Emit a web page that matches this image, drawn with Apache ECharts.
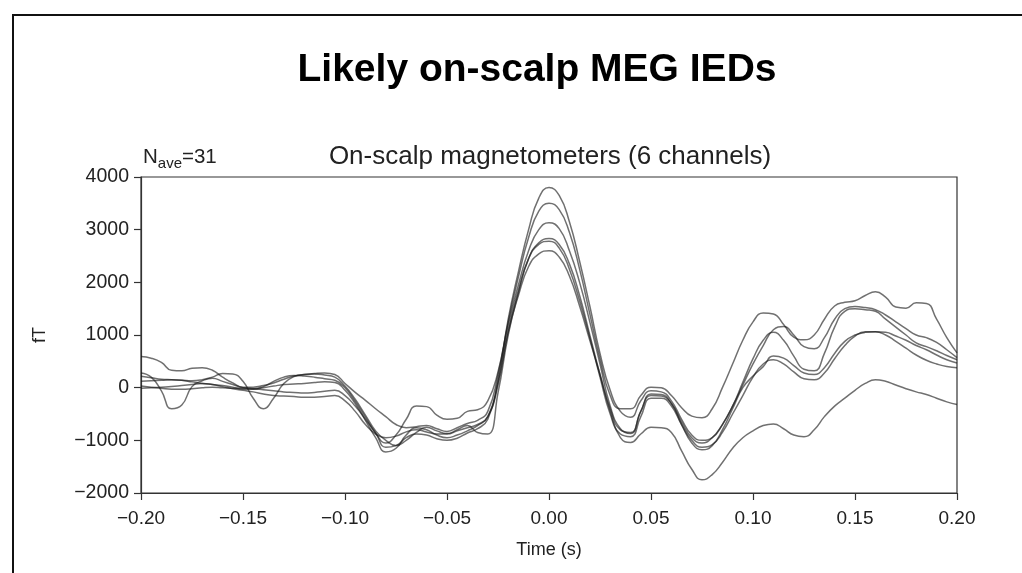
<!DOCTYPE html>
<html>
<head>
<meta charset="utf-8">
<script src="https://cdn.jsdelivr.net/npm/echarts@6/dist/echarts.min.js"></script>
<style>
html,body{margin:0;padding:0;background:#fff;}
#chart{width:1022px;height:573px;}
</style>
</head>
<body>
<div id="chart"></div>
<script>
// Time samples (s)
var times = [-0.200,-0.195,-0.190,-0.185,-0.180,-0.175,-0.170,-0.165,-0.160,-0.155,
-0.150,-0.145,-0.140,-0.135,-0.130,-0.125,-0.120,-0.115,-0.110,-0.105,
-0.100,-0.095,-0.090,-0.085,-0.080,-0.075,-0.070,-0.065,-0.060,-0.055,
-0.050,-0.045,-0.040,-0.035,-0.030,-0.025,-0.020,-0.015,-0.010,-0.005,
0.000,0.005,0.010,0.015,0.020,0.025,0.030,0.035,0.040,0.045,
0.050,0.055,0.060,0.065,0.070,0.075,0.080,0.085,0.090,0.095,
0.100,0.105,0.110,0.115,0.120,0.125,0.130,0.135,0.140,0.145,
0.150,0.155,0.160,0.165,0.170,0.175,0.180,0.185,0.190,0.195,0.200];

// Six channels (fT)
var ch1 = [120,130,140,150,140,110,80,60,40,10,
-30,-30,0,30,60,70,80,100,110,100,
-50,-300,-620,-950,-1220,-1150,-900,-760,-800,-900,
-950,-900,-820,-720,-550,150,1300,2200,3000,3600,
3800,3650,3150,2400,1550,650,-50,-450,-560,-250,
-60,-80,-250,-600,-900,-1000,-950,-700,-350,50,
450,800,1100,1160,1000,780,740,950,1300,1500,
1540,1520,1480,1380,1250,1120,1000,950,860,720,570];

var ch2 = [590,560,480,330,320,370,380,330,200,90,
10,10,40,90,160,220,250,270,280,250,
80,-90,-240,-400,-550,-700,-760,-740,-720,-780,
-830,-760,-680,-620,-450,250,1250,2100,2850,3350,
3500,3380,2950,2250,1400,550,-150,-400,-400,-150,
10,0,-150,-380,-540,-570,-400,0,450,900,
1250,1420,1400,1200,960,910,1000,1300,1550,1620,
1650,1750,1820,1720,1530,1510,1610,1600,1300,950,660];

var ch3 = [280,200,-60,-400,-330,20,130,180,120,60,
0,-20,20,120,200,230,220,200,170,140,
0,-260,-560,-860,-1050,-900,-600,-350,-360,-520,
-600,-580,-450,-420,-250,300,1200,1950,2600,3000,
3130,3020,2600,2000,1250,450,-350,-780,-870,-450,
-150,-160,-300,-650,-950,-1050,-950,-700,-350,100,
550,900,1050,900,600,350,320,650,1150,1450,
1500,1480,1450,1300,1150,1000,850,780,700,610,530];

var ch4 = [215,190,160,150,140,130,150,200,270,260,
120,-200,-400,-200,80,210,250,260,240,200,
30,-220,-520,-820,-1000,-1100,-1000,-850,-750,-820,
-870,-800,-720,-850,-880,-100,1000,1800,2450,2750,
2830,2720,2350,1750,1000,250,-450,-950,-1040,-880,
-750,-760,-850,-1200,-1550,-1750,-1650,-1420,-1150,-950,
-820,-720,-690,-780,-900,-930,-800,-550,-350,-200,
-50,80,150,120,50,-20,-80,-130,-200,-270,-320];

var ch5 = [30,10,-10,-30,-30,-20,0,10,0,-10,
-10,-20,-40,-60,-80,-90,-100,-90,-70,-50,
-150,-350,-600,-860,-1130,-1100,-950,-880,-900,-970,
-1000,-960,-860,-780,-600,100,1100,1850,2450,2720,
2780,2650,2250,1650,950,200,-500,-880,-930,-550,
-200,-200,-350,-700,-1000,-1130,-1080,-850,-500,-150,
200,450,530,450,300,170,150,280,550,800,
980,1060,1060,1000,880,750,620,520,450,400,380];

var ch6 = [-10,0,10,20,40,60,80,60,20,-20,
-50,-80,-120,-150,-160,-170,-180,-180,-170,-150,
-250,-450,-700,-880,-950,-920,-840,-800,-840,-880,
-880,-820,-760,-700,-550,50,1050,1750,2300,2540,
2600,2480,2120,1550,900,250,-400,-800,-850,-450,
-120,-130,-300,-700,-1050,-1180,-1100,-800,-400,0,
220,400,600,560,420,280,250,380,650,880,
1000,1050,1060,1050,980,900,800,720,620,530,470];

var channels = [ch1, ch2, ch3, ch4, ch5, ch6];
var xTicks = [-0.20,-0.15,-0.10,-0.05,0.00,0.05,0.10,0.15,0.20];
var yTicks = [-2000,-1000,0,1000,2000,3000,4000];

var mainTitle = 'Likely on-scalp MEG IEDs';
var subTitle = 'On-scalp magnetometers (6 channels)';
var xName = 'Time (s)';
var yName = 'fT';

function minusFmt(s){ return s.replace('-', '\u2212'); }

var chart = echarts.init(document.getElementById('chart'), null, {renderer:'canvas'});
var FONT = 'Liberation Sans, Arial, sans-serif';

var series = channels.map(function(ch){
  return {
    type:'line',
    data: times.map(function(t,i){ return [t, ch[i]]; }),
    showSymbol:false,
    smooth:0.5,
    lineStyle:{color:'rgba(25,25,25,0.62)', width:1.5},
    silent:true,
    animation:false
  };
});

chart.setOption({
  backgroundColor:'#fff',
  animation:false,
  title:[
    {text: mainTitle, left:532, top:46, textAlign:'center',
     textStyle:{fontFamily:FONT, fontSize:39, fontWeight:'bold', color:'#000'}},
    {text: subTitle, left:545, top:139, textAlign:'center',
     textStyle:{fontFamily:FONT, fontSize:26, fontWeight:'normal', color:'#222'}},
    {text: '{n|N}{s|ave}{n|=31}', left:138, top:142,
     textStyle:{fontFamily:FONT, fontWeight:'normal', rich:{
       n:{fontFamily:FONT, fontSize:20.5, fontWeight:'normal', color:'#222', verticalAlign:'bottom'},
       s:{fontFamily:FONT, fontSize:15, fontWeight:'normal', color:'#222', verticalAlign:'bottom', padding:[0,0,-3,0]}
     }}}
  ],
  graphic:[
    {type:'line', shape:{x1:13, y1:15, x2:1022, y2:15}, style:{stroke:'#111', lineWidth:2}, silent:true},
    {type:'line', shape:{x1:13, y1:14, x2:13, y2:573}, style:{stroke:'#111', lineWidth:2}, silent:true}
  ],
  grid:{left:141, right:65, top:177, bottom:80, show:true, borderColor:'#333', borderWidth:1.2, backgroundColor:'transparent'},
  xAxis:{
    type:'value', min:-0.2, max:0.2, interval:0.05,
    name:xName, nameLocation:'middle', nameGap:48,
    nameTextStyle:{fontFamily:FONT, fontSize:18, color:'#222'},
    axisLine:{show:true, onZero:false, lineStyle:{color:'#333', width:1.2}},
    axisTick:{show:true, inside:false, length:7, lineStyle:{color:'#333', width:1.2}},
    axisLabel:{fontFamily:FONT, fontSize:19, color:'#222', margin:16,
      formatter:function(v){ return minusFmt(v.toFixed(2)); }},
    splitLine:{show:false}
  },
  yAxis:{
    type:'value', min:-2000, max:4000, interval:1000,
    name:yName, nameLocation:'middle', nameGap:92, nameRotate:90,
    nameTextStyle:{fontFamily:FONT, fontSize:18, color:'#222'},
    axisLine:{show:true, onZero:false, lineStyle:{color:'#333', width:1.2}},
    axisTick:{show:true, inside:false, length:7, lineStyle:{color:'#333', width:1.2}},
    axisLabel:{fontFamily:FONT, fontSize:19.5, color:'#222', margin:12,
      formatter:function(v){ return minusFmt(String(v)); }},
    splitLine:{show:false}
  },
  series: series
});
</script>
</body>
</html>
